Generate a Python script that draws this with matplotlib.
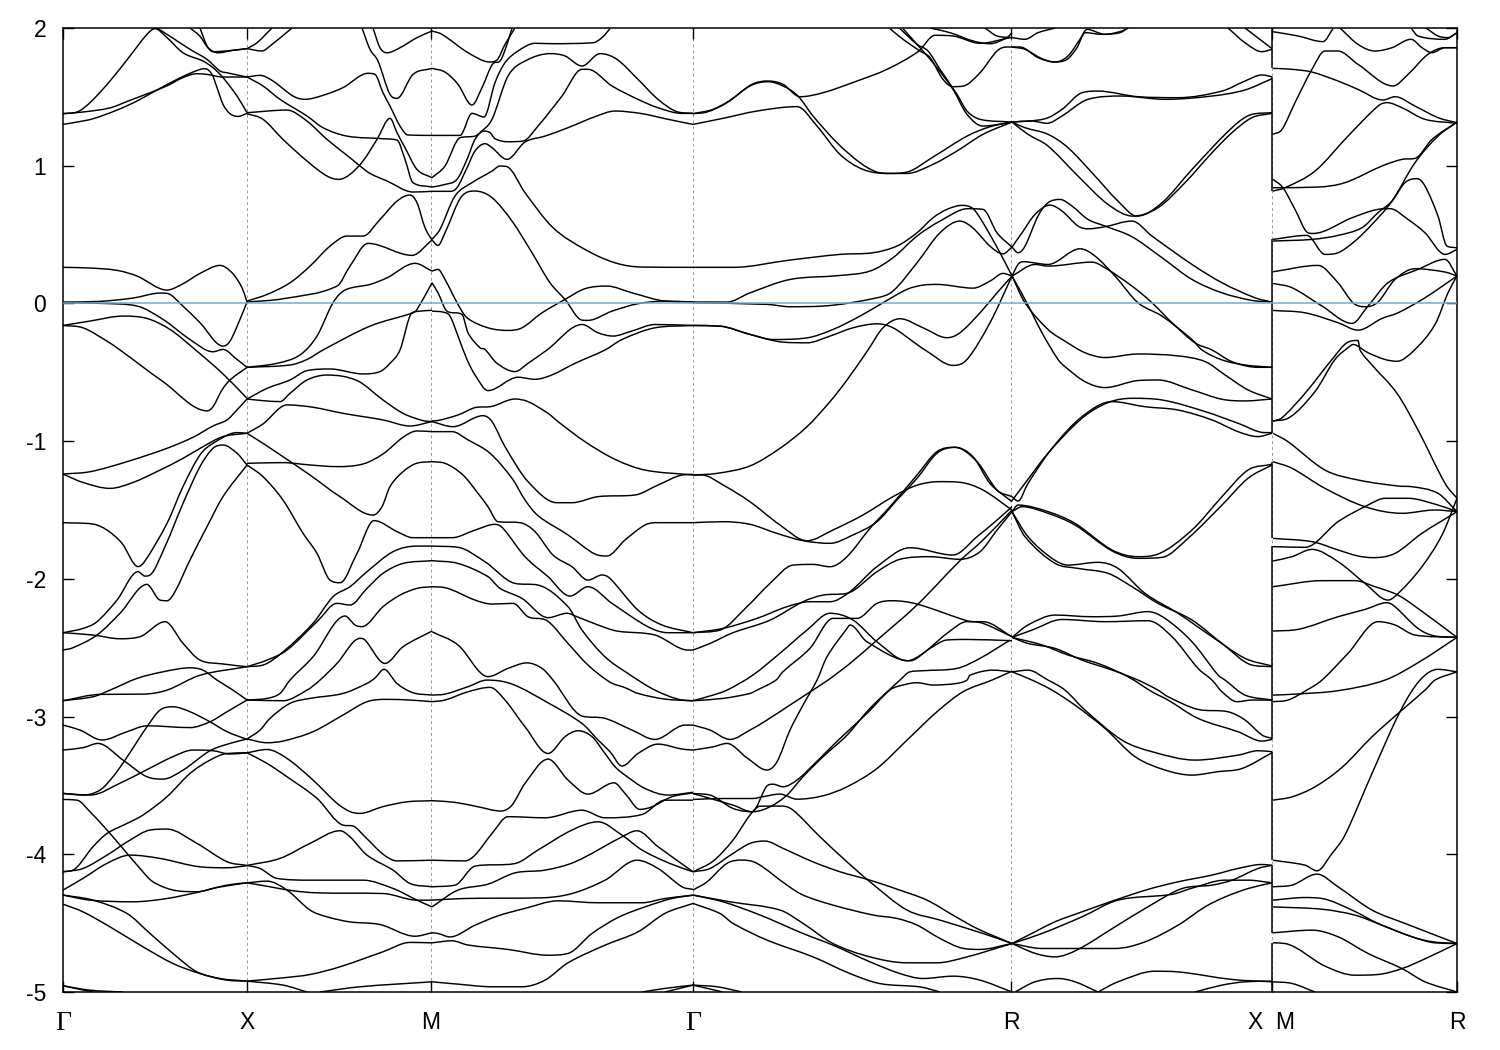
import matplotlib
matplotlib.use("Agg")
import matplotlib.pyplot as plt
from matplotlib.path import Path
from matplotlib.patches import PathPatch

# k path positions of the high symmetry points
tick_pos = [63, 247, 431, 693, 1011, 1272, 1457]
tick_names = ["\u0393", "X", "M", "\u0393", "R", "X  M", "R"]
e_ticks = [-5, -4, -3, -2, -1, 0, 1, 2]

# bands, one list per path segment: (k, E)
gamma_x = [
 ([63,77,90,110,130,147,155,167,183,203,213,223,237,247],[1.378,1.39,1.458,1.615,1.797,1.954,1.995,1.93,1.82,1.76,1.712,1.64,1.506,1.385]),
 ([157,170,190,207,220,227,247],[2.0,1.94,1.845,1.772,1.688,1.675,1.644]),
 ([63,83,110,130,150,167,183,197,207,223,247],[1.378,1.39,1.42,1.475,1.53,1.58,1.64,1.668,1.663,1.644,1.644]),
 ([63,77,93,117,137,157,177,193,205,212,217,223,230,238,247],[1.30,1.317,1.341,1.404,1.47,1.55,1.627,1.68,1.705,1.663,1.567,1.446,1.378,1.358,1.38]),
 ([190,200,208,218,233,247],[2.0,1.94,1.857,1.82,1.838,1.85]),
 ([200,207,213,233,247],[2.0,1.87,1.828,1.838,1.85]),
 ([63,90,117,137,167,183,200,220,232,242,247],[0.262,0.257,0.24,0.199,0.097,0.143,0.218,0.276,0.223,0.114,0.01]),
 ([63,100,133,160,167,183,200,223,230,240,247],[0.01,0.015,0.039,0.075,0.073,-0.02,-0.14,-0.31,-0.274,-0.116,0.01]),
 ([63,103,137,163,190,213,223,237,247],[0.005,0.0,-0.019,-0.116,-0.262,-0.351,-0.334,-0.407,-0.464]),
 ([63,90,123,147,170,193,223,247],[-0.16,-0.128,-0.092,-0.109,-0.189,-0.322,-0.512,-0.689]),
 ([63,83,107,120,163,207,213,222,230,247],[-0.16,-0.177,-0.274,-0.338,-0.568,-0.78,-0.75,-0.628,-0.556,-0.464]),
 ([63,90,127,167,193,213,227,237,247],[-1.239,-1.222,-1.149,-1.052,-0.972,-0.89,-0.846,-0.773,-0.694]),
 ([63,83,110,133,157,183,203,223,247],[-1.239,-1.3,-1.343,-1.3,-1.221,-1.125,-1.04,-0.967,-0.943]),
 ([63,93,107,122,138,145,167,183,200,213,237,247],[-1.592,-1.602,-1.646,-1.742,-1.911,-1.87,-1.597,-1.33,-1.1,-1.016,-0.938,-0.943]),
 ([63,83,97,117,138,145,150,165,183,200,213,223,237,247],[-2.391,-2.36,-2.311,-2.154,-1.948,-1.98,-1.972,-1.766,-1.452,-1.185,-1.052,-1.028,-1.088,-1.173]),
 ([63,73,97,120,147,150,160,167,175,190,207,223,247],[-2.517,-2.5,-2.408,-2.25,-2.04,-2.057,-2.154,-2.159,-2.093,-1.863,-1.621,-1.403,-1.173]),
 ([63,93,120,140,165,183,200,223,247],[-2.391,-2.408,-2.435,-2.42,-2.311,-2.468,-2.59,-2.618,-2.638]),
 ([63,100,143,167,200,247],[-2.885,-2.839,-2.837,-2.808,-2.70,-2.638]),
 ([63,93,110,137,163,190,203,217,233,247],[-2.885,-2.856,-2.808,-2.723,-2.675,-2.646,-2.663,-2.735,-2.808,-2.88]),
 ([63,80,102,127,147,190,210,227,247],[-3.062,-3.098,-3.17,-3.11,-3.067,-3.08,-3.038,-2.965,-2.88]),
 ([63,83,98,123,147,163,183,210,230,247],[-3.243,-3.226,-3.195,-3.316,-3.437,-3.454,-3.389,-3.248,-3.195,-3.163]),
 ([63,83,100,113,125,147,160,173,190,210,227,247],[-3.558,-3.57,-3.534,-3.437,-3.316,-3.074,-2.953,-2.929,-2.965,-3.038,-3.11,-3.166]),
 ([63,90,123,143,173,193,213,230,247],[-3.558,-3.57,-3.473,-3.4,-3.291,-3.243,-3.248,-3.272,-3.263]),
 ([63,77,90,107,120,140,153,177,197,217,247],[-3.602,-3.607,-3.691,-3.824,-3.933,-4.103,-4.2,-4.265,-4.272,-4.241,-4.207]),
 ([63,73,93,107,127,143,167,190,210,227,247],[-4.127,-4.115,-3.945,-3.849,-3.776,-3.715,-3.582,-3.413,-3.316,-3.268,-3.263]),
 ([63,83,107,130,150,167,197,227,247],[-4.127,-4.103,-4.006,-3.897,-3.824,-3.817,-3.921,-4.054,-4.081]),
 ([63,83,107,130,160,200,227,247],[-4.26,-4.175,-4.066,-4.006,-4.03,-4.091,-4.098,-4.083]),
 ([63,90,133,167,200,227,247],[-4.296,-4.333,-4.345,-4.321,-4.272,-4.224,-4.207]),
 ([63,93,127,150,177,197,220,247],[-4.296,-4.333,-4.43,-4.575,-4.745,-4.854,-4.902,-4.921]),
 ([63,83,110,143,173,200,227,247],[-4.362,-4.418,-4.527,-4.672,-4.793,-4.866,-4.914,-4.921]),
 ([63,90,123],[-4.955,-4.987,-5.0]),
 ([63,93],[-4.955,-5.0]),
]

x_m = [
 ([247,263,283,307,327,339,350,363,377,390,397,405,417,432],[1.378,1.337,1.191,1.034,0.925,0.901,0.937,1.034,1.191,1.344,1.24,1.131,0.973,0.913]),
 ([247,287,307,327,350,360,370,387,413,432],[1.385,1.404,1.324,1.191,1.058,0.998,0.944,0.889,0.809,0.814]),
 ([247,263,280,307,323,347,383,397,405,413,432],[1.644,1.579,1.482,1.361,1.276,1.215,1.196,1.186,1.046,0.877,0.845]),
 ([247,260,273,293,305,323,343,368,375,383,390,400,408,432],[1.644,1.656,1.615,1.506,1.482,1.511,1.567,1.671,1.663,1.53,1.433,1.288,1.223,1.22]),
 ([247,257,272],[1.85,1.893,2.0]),
 ([247,262,270,292],[1.85,1.833,1.869,2.0]),
 ([362,370,378,390,397,413,432],[2.0,1.845,1.76,1.518,1.489,1.663,1.707]),
 ([373,380,387,400,417,432],[2.0,1.857,1.82,1.857,1.93,1.978]),
 ([247,267,290,310,330,347,363,380,397,410,417,425,432],[0.017,0.065,0.15,0.271,0.416,0.489,0.489,0.61,0.743,0.787,0.731,0.55,0.46]),
 ([247,283,337,350,368,412,432],[0.01,0.034,0.126,0.271,0.436,0.349,0.46]),
 ([247,277,300,317,333,345,370,387,415,432],[-0.464,-0.435,-0.374,-0.237,0.005,0.097,0.138,0.186,0.291,0.235]),
 ([247,290,307,323,370,413,417,432],[-0.464,-0.447,-0.407,-0.338,-0.165,-0.068,-0.044,0.15]),
 ([247,267,290,307,330,363,380,390,400,412,420,432],[-0.694,-0.617,-0.556,-0.488,-0.476,-0.512,-0.495,-0.435,-0.338,-0.068,-0.056,-0.05]),
 ([247,263,280,290,307,327,357,383,403,423,432],[-0.694,-0.706,-0.713,-0.653,-0.556,-0.52,-0.56,-0.701,-0.798,-0.851,-0.858]),
 ([247,263,287,313,343,383,410,432],[-0.943,-0.875,-0.737,-0.754,-0.798,-0.846,-0.89,-0.858]),
 ([247,263,283,310,340,373,382,390,403,417,432],[-0.943,-1.016,-1.113,-1.246,-1.403,-1.537,-1.476,-1.33,-1.222,-1.16,-1.149]),
 ([247,283,310,337,363,383,403,417,432],[-1.161,-1.156,-1.173,-1.185,-1.166,-1.093,-0.972,-0.926,-0.931]),
 ([247,263,283,303,317,330,340,357,374,397,413,432],[-1.173,-1.258,-1.428,-1.669,-1.815,-2.009,-2.028,-1.815,-1.577,-1.657,-1.701,-1.701]),
 ([247,263,283,313,333,350,367,393,417,432],[-2.638,-2.626,-2.53,-2.323,-2.13,-2.057,-1.948,-1.803,-1.762,-1.762]),
 ([247,267,287,317,337,350,367,383,403,432],[-2.638,-2.59,-2.517,-2.311,-2.178,-2.19,-2.069,-1.96,-1.888,-1.868]),
 ([247,267,280,290,313,345,355,362,383,400,417,432],[-2.88,-2.868,-2.832,-2.735,-2.566,-2.27,-2.335,-2.347,-2.202,-2.118,-2.069,-2.057]),
 ([247,283,307,320,337,360,365,385,403,432],[-2.88,-2.885,-2.808,-2.735,-2.614,-2.432,-2.444,-2.614,-2.493,-2.379]),
 ([247,267,283,313,343,367,387,410,432],[-3.163,-3.19,-3.178,-3.11,-2.989,-2.892,-2.875,-2.88,-2.892]),
 ([247,260,270,290,310,343,367,375,384,397,413,432],[-3.163,-3.098,-3.013,-2.904,-2.868,-2.832,-2.759,-2.72,-2.657,-2.76,-2.827,-2.844]),
 ([247,267,287,313,337,350,360,383,407,432],[-3.263,-3.239,-3.304,-3.461,-3.63,-3.69,-3.703,-3.654,-3.619,-3.611]),
 ([247,267,287,317,343,353,365,383,397,432],[-3.263,-3.34,-3.437,-3.594,-3.788,-3.795,-3.873,-3.999,-4.048,-4.043]),
 ([247,280,310,340,350,367,393,410,432],[-4.081,-4.03,-3.921,-3.829,-3.873,-4.006,-4.115,-4.212,-4.236]),
 ([247,260,277,310,363,393,417,432],[-4.081,-4.103,-4.175,-4.188,-4.188,-4.248,-4.333,-4.382]),
 ([247,267,287,310,327,350,380,415,432],[-4.207,-4.195,-4.26,-4.405,-4.454,-4.491,-4.51,-4.595,-4.57]),
 ([247,270,293,317,383,417,432],[-4.207,-4.236,-4.265,-4.28,-4.285,-4.333,-4.333]),
 ([247,283,310,340,383,410,432],[-4.921,-4.897,-4.873,-4.817,-4.708,-4.64,-4.643]),
 ([247,283,307],[-4.921,-4.95,-5.0]),
 ([320,360,432],[-5.0,-4.962,-4.926]),
]

m_gamma = [
 ([432,442,468,490,497,505,515],[1.978,1.954,1.821,1.753,1.768,1.881,2.0]),
 ([432,445,458,472,482,493,500,507,512],[1.707,1.68,1.591,1.441,1.567,1.741,1.76,1.881,2.0]),
 ([432,460,472,484,495,505,518,535,552,593,602,610],[1.22,1.22,1.38,1.354,1.603,1.748,1.833,1.889,1.886,1.893,1.93,1.995]),
 ([432,445,460,475,480,492,508,525,550,565,582,600,617,638,658,678,693],[0.913,0.998,1.203,1.215,1.24,1.337,1.651,1.76,1.814,1.797,1.724,1.814,1.772,1.627,1.482,1.39,1.38]),
 ([432,445,457,467,475,484,490,495,508,523,538,562,582,588,612,638,658,682,693],[0.845,0.864,0.901,1.046,1.191,1.252,1.24,1.196,1.174,1.179,1.288,1.506,1.7,1.7,1.579,1.482,1.421,1.38,1.38]),
 ([432,450,457,467,475,485,492,507,525,545,568,595,615,642,668,693],[0.814,0.814,0.84,0.985,1.107,1.16,1.131,1.046,1.172,1.215,1.276,1.356,1.397,1.378,1.337,1.3]),
 ([432,440,455,472,492,500,507,525,553,585,615,642,693],[0.465,0.538,0.78,0.877,0.961,0.998,0.993,0.804,0.55,0.392,0.295,0.264,0.262]),
 ([432,438,445,462,475,492,512,532,550,565,582,588,612,638,665,693],[0.46,0.421,0.513,0.78,0.816,0.768,0.598,0.368,0.15,0.029,-0.121,-0.123,-0.056,-0.002,0.017,0.01]),
 ([432,438,445,458,467,488,508,522,542,565,585,607,632,665,693],[0.235,0.247,0.174,-0.007,-0.104,-0.177,-0.196,-0.177,-0.068,0.029,0.107,0.126,0.077,0.017,0.01]),
 ([432,438,447,462,468,480,485,497,515,528,547,582,598,613,632,655,693],[0.15,0.077,-0.056,-0.08,-0.213,-0.322,-0.334,-0.435,-0.495,-0.435,-0.338,-0.153,-0.213,-0.237,-0.2,-0.153,-0.16]),
 ([432,443,450,458,467,475,488,518,535,552,575,605,622,655,693],[-0.056,-0.063,-0.092,-0.237,-0.407,-0.519,-0.633,-0.536,-0.551,-0.519,-0.435,-0.338,-0.262,-0.177,-0.16]),
 ([432,438,458,477,490,515,528,548,558,585,615,645,693],[-0.853,-0.85,-0.81,-0.754,-0.75,-0.694,-0.713,-0.798,-0.858,-1.004,-1.132,-1.21,-1.246]),
 ([432,453,483,492,505,528,557,572,598,635,658,682,693],[-0.858,-0.895,-0.815,-0.858,-1.04,-1.294,-1.447,-1.447,-1.403,-1.391,-1.319,-1.246,-1.241]),
 ([432,452,468,490,512,525,538,568,595,607,625,645,658,693],[-0.931,-0.931,-0.991,-1.088,-1.27,-1.427,-1.541,-1.681,-1.82,-1.834,-1.718,-1.609,-1.592,-1.592]),
 ([432,445,463,478,488,498,520,535,553,572,588,602,610,638,662,693],[-1.149,-1.161,-1.246,-1.379,-1.476,-1.585,-1.592,-1.657,-1.827,-1.912,-2.009,-1.972,-1.997,-2.227,-2.335,-2.391]),
 ([432,452,475,495,503,525,548,570,588,612,648,668,693],[-1.701,-1.701,-1.646,-1.604,-1.633,-1.839,-1.984,-2.125,-2.057,-2.178,-2.348,-2.391,-2.391]),
 ([432,458,485,515,538,568,582,605,628,655,682,693],[-1.762,-1.771,-1.876,-2.033,-2.045,-2.202,-2.372,-2.566,-2.687,-2.808,-2.88,-2.885]),
 ([432,458,488,500,522,548,567,577,598,617,655,688,693],[-1.868,-1.888,-1.984,-2.069,-2.142,-2.282,-2.25,-2.275,-2.335,-2.379,-2.408,-2.517,-2.517]),
 ([432,445,475,492,513,528,547,568,588,610,625,638,665,693],[-2.057,-2.064,-2.154,-2.183,-2.178,-2.275,-2.304,-2.469,-2.626,-2.75,-2.79,-2.832,-2.873,-2.885]),
 ([432,458,488,508,527,542,553,582,605,632,655,685,693],[-2.384,-2.48,-2.71,-2.65,-2.61,-2.65,-2.735,-2.996,-3.013,-3.098,-3.166,-3.062,-3.062]),
 ([432,445,468,487,512,548,582,598,610,622,638,658,682,693],[-2.844,-2.837,-2.783,-2.735,-2.764,-2.9,-3.05,-3.17,-3.255,-3.359,-3.268,-3.2,-3.236,-3.243]),
 ([432,445,468,490,505,525,548,565,578,592,605,615,625,645,668,693],[-2.892,-2.88,-2.82,-2.788,-2.88,-3.074,-3.268,-3.146,-3.103,-3.146,-3.268,-3.364,-3.425,-3.522,-3.57,-3.55]),
 ([432,455,478,501,512,525,548,568,588,614,625,640,652,672,693],[-3.611,-3.623,-3.655,-3.686,-3.643,-3.485,-3.309,-3.461,-3.563,-3.481,-3.558,-3.674,-3.655,-3.582,-3.554]),
 ([432,465,475,492,508,545,582,605,642,665,693],[-4.043,-4.048,-4.006,-3.849,-3.727,-3.735,-3.68,-3.735,-3.711,-3.607,-3.607]),
 ([432,455,475,515,538,572,598,622,642,670,693],[-4.236,-4.224,-4.086,-4.067,-3.969,-3.824,-3.764,-3.861,-3.969,-4.067,-4.127]),
 ([432,458,488,515,545,575,622,637,658,693],[-4.382,-4.26,-4.217,-4.135,-4.115,-4.055,-3.873,-3.829,-3.945,-4.127]),
 ([432,465,542,572,605,637,658,682,693],[-4.333,-4.321,-4.316,-4.285,-4.188,-4.043,-4.103,-4.236,-4.255]),
 ([432,438,450,475,498,525,558,598,642,665,693],[-4.57,-4.575,-4.6,-4.515,-4.447,-4.393,-4.338,-4.352,-4.352,-4.321,-4.297]),
 ([432,452,468,508,548,568,592,618,645,672,693],[-4.643,-4.628,-4.659,-4.691,-4.733,-4.72,-4.575,-4.459,-4.382,-4.321,-4.297]),
 ([432,458,492,522,545,568,605,638,665,693],[-4.926,-4.943,-4.962,-4.962,-4.914,-4.788,-4.66,-4.563,-4.429,-4.357]),
 ([642,665,693],[-5.0,-4.974,-4.95]),
 ([665,693],[-5.0,-4.95]),
]

gamma_r = [
 ([693,707,727,750,768,783,798,813,837,860,877,890,907,933,967,990,1012],[1.378,1.39,1.458,1.579,1.61,1.579,1.506,1.361,1.167,1.022,0.954,0.944,0.954,1.063,1.215,1.283,1.317]),
 ([693,713,730,752,768,783,800,823,857,887,918,935,953,980,1010],[1.378,1.409,1.475,1.591,1.615,1.591,1.501,1.53,1.615,1.7,1.828,1.947,1.942,1.889,1.93]),
 ([693,723,757,797,817,840,863,887,907,933,957,983,1012],[1.3,1.344,1.397,1.429,1.288,1.082,0.973,0.944,0.944,1.01,1.107,1.228,1.317]),
 ([890,903,920,930,943,953,963,980,997,1007,1012],[1.995,1.918,1.833,1.785,1.627,1.574,1.578,1.675,1.833,1.862,1.862]),
 ([900,917,928,940,957,967,980,1012],[1.995,1.881,1.833,1.7,1.518,1.397,1.337,1.317]),
 ([903,920,937,953,967,983,1012],[1.995,1.857,1.712,1.554,1.373,1.288,1.317]),
 ([930,950,973,990,1007,1012],[2.0,1.966,1.906,1.886,1.93,1.966]),
 ([985,997,1012],[2.0,1.942,1.93]),
 ([693,733,790,840,873,897,917,933,947,962,973,983,1000,1012],[0.262,0.262,0.315,0.356,0.368,0.417,0.513,0.622,0.683,0.712,0.688,0.586,0.368,0.199]),
 ([693,727,750,790,840,870,893,917,940,968,983,997,1012],[0.01,0.01,0.077,0.174,0.203,0.235,0.332,0.489,0.598,0.688,0.683,0.513,0.409]),
 ([693,767,790,823,877,893,917,940,960,973,990,1003,1012],[0.005,-0.007,-0.024,-0.019,0.041,0.09,0.295,0.513,0.598,0.547,0.416,0.36,0.409]),
 ([693,720,750,773,807,833,860,883,907,923,937,973,990,1003,1012],[-0.16,-0.165,-0.225,-0.262,-0.25,-0.189,-0.092,0.005,0.102,0.133,0.138,0.111,0.162,0.218,0.199]),
 ([693,720,750,783,807,830,853,877,893,917,925,953,967,990,1012],[-0.16,-0.165,-0.225,-0.281,-0.286,-0.237,-0.177,-0.148,-0.177,-0.298,-0.338,-0.45,-0.407,-0.14,0.199]),
 ([693,717,750,780,807,830,847,868,883,900,923,947,960,980,997,1012],[-1.246,-1.234,-1.18,-1.052,-0.895,-0.713,-0.556,-0.338,-0.177,-0.111,-0.177,-0.249,-0.213,-0.068,0.077,0.199]),
 ([693,702,723,750,780,807,833,863,893,917,940,960,983,1012],[-1.246,-1.246,-1.318,-1.44,-1.609,-1.723,-1.645,-1.536,-1.403,-1.32,-1.294,-1.299,-1.355,-1.5]),
 ([693,723,750,777,803,830,853,877,897,917,937,955,973,990,1012],[-1.592,-1.585,-1.604,-1.67,-1.723,-1.742,-1.681,-1.585,-1.427,-1.27,-1.088,-1.045,-1.113,-1.307,-1.44]),
 ([693,720,747,770,793,813,830,847,870,890,917,937,955,977,997,1012],[-2.391,-2.372,-2.202,-2.033,-1.9,-1.895,-1.912,-1.839,-1.633,-1.476,-1.246,-1.076,-1.045,-1.149,-1.355,-1.403]),
 ([693,723,757,787,810,830,850,877,910,953,977,997,1012],[-2.391,-2.36,-2.287,-2.202,-2.166,-2.166,-2.093,-1.911,-1.774,-1.827,-1.694,-1.573,-1.476]),
 ([693,710,733,770,803,823,847,877,900,930,960,980,997,1012],[-2.517,-2.469,-2.391,-2.3,-2.166,-2.118,-2.105,-1.948,-1.858,-1.839,-1.858,-1.803,-1.646,-1.512]),
 ([693,713,727,753,780,807,830,853,877,907,923,947,967,983,1012],[-2.885,-2.844,-2.808,-2.698,-2.54,-2.372,-2.25,-2.299,-2.457,-2.595,-2.541,-2.396,-2.311,-2.311,-2.42]),
 ([693,723,750,757,776,783,810,833,857,877,893,917,967,983,1012],[-2.885,-2.868,-2.832,-2.808,-2.735,-2.674,-2.504,-2.287,-2.287,-2.178,-2.159,-2.183,-2.304,-2.323,-2.42]),
 ([693,713,727,747,767,777,790,803,817,827,847,850,867,910,930,947,967,1012],[-3.243,-3.22,-3.195,-3.3,-3.388,-3.328,-3.098,-2.917,-2.735,-2.565,-2.36,-2.335,-2.457,-2.595,-2.505,-2.444,-2.44,-2.449]),
 ([693,710,730,750,767,790,813,828,850,877,917,960,983,1012],[-3.062,-3.098,-3.166,-3.098,-3.025,-2.916,-2.807,-2.735,-2.614,-2.445,-2.19,-1.868,-1.718,-1.5]),
 ([693,710,733,753,770,787,803,823,847,870,900,910,923,957,980,1010],[-3.559,-3.57,-3.667,-3.691,-3.655,-3.57,-3.437,-3.292,-3.135,-2.94,-2.735,-2.675,-2.667,-2.65,-2.577,-2.445]),
 ([693,723,753,762,780,797,823,847,877,907,937,963,992,1012],[-3.602,-3.595,-3.595,-3.583,-3.563,-3.6,-3.575,-3.51,-3.377,-3.171,-2.965,-2.82,-2.735,-2.67]),
 ([693,733,752,768,773,783,797,813,840,867,890,903,917,933,957,967,970,993,1012],[-3.559,-3.643,-3.691,-3.498,-3.491,-3.51,-3.461,-3.353,-3.159,-2.977,-2.807,-2.771,-2.754,-2.771,-2.759,-2.735,-2.699,-2.663,-2.675]),
 ([693,710,733,750,765,783,813,840,870,900,927,953,977,1012],[-4.127,-4.103,-3.994,-3.921,-3.904,-3.957,-4.055,-4.127,-4.188,-4.261,-4.333,-4.442,-4.539,-4.648]),
 ([693,713,733,750,760,782,793,820,847,870,907,940,983,1012],[-4.127,-4.05,-3.897,-3.715,-3.651,-3.65,-3.679,-3.873,-4.055,-4.2,-4.405,-4.478,-4.575,-4.648]),
 ([693,707,727,742,757,787,803,833,873,897,917,940,963,980,1012],[-4.26,-4.2,-4.066,-4.042,-4.066,-4.224,-4.296,-4.369,-4.441,-4.466,-4.514,-4.611,-4.683,-4.691,-4.648]),
 ([693,730,780,803,833,870,907,937,967,1012],[-4.296,-4.345,-4.405,-4.502,-4.648,-4.745,-4.788,-4.788,-4.745,-4.648]),
 ([693,723,760,803,833,870,900,923,953,980,1012],[-4.296,-4.345,-4.441,-4.575,-4.66,-4.781,-4.866,-4.902,-4.885,-4.914,-5.0]),
 ([693,720,733,767,813,850,880,920,940],[-4.357,-4.43,-4.502,-4.623,-4.745,-4.866,-4.939,-4.963,-5.0]),
 ([693,717,742],[-4.95,-4.962,-5.0]),
 ([693,723],[-4.95,-5.0]),
]

r_x = [
 ([1012,1025,1038,1055],[1.93,1.918,1.966,2.0]),
 ([1012,1020,1038,1055,1068,1080,1087,1105,1122,1128],[1.862,1.862,1.785,1.753,1.797,1.918,1.99,1.954,1.978,2.0]),
 ([1012,1025,1042,1055,1067,1077,1085,1102,1120,1128],[1.862,1.845,1.777,1.753,1.772,1.857,1.966,1.954,1.966,2.0]),
 ([1228,1245,1262,1272],[2.0,1.893,1.828,1.845]),
 ([1245,1272],[2.0,1.85]),
 ([1012,1045,1062,1082,1098,1138,1178,1222,1245,1262,1272],[1.317,1.341,1.409,1.53,1.542,1.501,1.494,1.542,1.615,1.659,1.646]),
 ([1012,1032,1047,1062,1088,1122,1165,1212,1245,1272],[1.317,1.324,1.308,1.361,1.482,1.506,1.482,1.506,1.55,1.632]),
 ([1012,1025,1048,1068,1092,1118,1137,1162,1192,1232,1252,1272],[1.317,1.276,1.228,1.131,0.949,0.743,0.634,0.731,0.973,1.276,1.373,1.385]),
 ([1012,1028,1048,1078,1108,1133,1158,1185,1212,1232,1252,1272],[1.317,1.228,1.143,0.925,0.719,0.634,0.695,0.877,1.094,1.24,1.349,1.38]),
 ([1012,1018,1025,1038,1048,1060,1072,1088,1105,1132,1162,1192,1222,1252,1272],[0.409,0.368,0.416,0.634,0.731,0.755,0.707,0.61,0.562,0.484,0.332,0.174,0.077,0.022,0.01]),
 ([1012,1022,1035,1050,1062,1078,1088,1105,1132,1152,1192,1222,1255,1272],[0.409,0.513,0.646,0.714,0.671,0.562,0.542,0.557,0.598,0.489,0.283,0.15,0.041,0.01]),
 ([1012,1018,1023,1048,1080,1095,1115,1138,1162,1192,1202,1222,1245,1272],[0.199,0.283,0.303,0.283,0.397,0.344,0.199,0.005,-0.092,-0.262,-0.338,-0.41,-0.447,-0.464]),
 ([1012,1035,1048,1092,1105,1132,1152,1172,1195,1212,1232,1258,1272],[0.199,0.283,0.271,0.3,0.259,0.126,0.005,-0.14,-0.286,-0.338,-0.423,-0.464,-0.464]),
 ([1012,1025,1048,1065,1085,1105,1138,1178,1205,1225,1248,1272],[0.199,0.005,-0.189,-0.274,-0.358,-0.393,-0.367,-0.381,-0.422,-0.519,-0.628,-0.694]),
 ([1012,1025,1042,1058,1065,1085,1105,1138,1158,1192,1222,1245,1272],[0.199,0.029,-0.213,-0.407,-0.459,-0.568,-0.611,-0.56,-0.556,-0.628,-0.696,-0.708,-0.694]),
 ([1012,1025,1048,1082,1108,1132,1162,1205,1238,1265,1272],[-1.432,-1.306,-1.088,-0.834,-0.72,-0.689,-0.701,-0.785,-0.87,-0.938,-0.938]),
 ([1012,1018,1028,1052,1082,1112,1145,1178,1212,1238,1258,1272],[-1.403,-1.435,-1.307,-1.052,-0.822,-0.713,-0.75,-0.774,-0.846,-0.931,-0.967,-0.943]),
 ([1012,1018,1048,1075,1112,1138,1158,1192,1222,1248,1272],[-1.512,-1.464,-1.512,-1.597,-1.79,-1.839,-1.82,-1.645,-1.403,-1.21,-1.168]),
 ([1012,1022,1048,1075,1112,1138,1162,1188,1222,1248,1272],[-1.512,-1.476,-1.524,-1.609,-1.797,-1.851,-1.844,-1.706,-1.464,-1.27,-1.173]),
 ([1012,1028,1052,1068,1098,1118,1145,1178,1212,1245,1272],[-1.512,-1.694,-1.851,-1.9,-1.88,-1.924,-2.105,-2.25,-2.42,-2.577,-2.633]),
 ([1012,1025,1055,1078,1108,1132,1158,1192,1222,1252,1272],[-1.512,-1.694,-1.887,-1.924,-1.96,-2.057,-2.178,-2.299,-2.469,-2.626,-2.638]),
 ([1012,1028,1055,1092,1118,1148,1165,1192,1218,1225,1245,1272],[-2.425,-2.335,-2.263,-2.275,-2.27,-2.238,-2.287,-2.457,-2.698,-2.735,-2.844,-2.88]),
 ([1012,1032,1062,1105,1148,1172,1198,1212,1222,1237,1252,1272],[-2.425,-2.372,-2.295,-2.311,-2.304,-2.42,-2.65,-2.735,-2.82,-2.892,-2.88,-2.88]),
 ([1012,1042,1068,1098,1128,1152,1168,1198,1238,1262,1272],[-2.425,-2.48,-2.553,-2.614,-2.711,-2.82,-2.88,-3.013,-3.11,-3.178,-3.166]),
 ([1012,1028,1055,1082,1112,1138,1158,1168,1198,1228,1245,1262,1272],[-2.425,-2.469,-2.505,-2.59,-2.662,-2.735,-2.808,-2.856,-2.948,-2.965,-3.025,-3.134,-3.158]),
 ([1012,1032,1052,1075,1105,1135,1165,1192,1218,1242,1272],[-2.675,-2.735,-2.808,-2.917,-3.086,-3.291,-3.388,-3.425,-3.4,-3.377,-3.263]),
 ([1012,1028,1048,1065,1085,1122,1152,1195,1238,1258,1272],[-2.675,-2.663,-2.735,-2.808,-2.953,-3.171,-3.255,-3.316,-3.28,-3.248,-3.255]),
 ([1012,1035,1055,1082,1115,1148,1178,1212,1238,1262,1272],[-4.648,-4.563,-4.49,-4.418,-4.333,-4.255,-4.2,-4.151,-4.103,-4.074,-4.08]),
 ([1012,1042,1082,1118,1172,1192,1225,1248,1272],[-4.648,-4.575,-4.454,-4.333,-4.291,-4.246,-4.188,-4.188,-4.207]),
 ([1012,1042,1078,1115,1145,1178,1205,1225,1248,1272],[-4.648,-4.684,-4.684,-4.684,-4.636,-4.515,-4.382,-4.31,-4.249,-4.207]),
 ([1012,1035,1055,1078,1115,1148,1182,1212,1232,1258,1272],[-4.648,-4.719,-4.745,-4.691,-4.527,-4.381,-4.249,-4.224,-4.188,-4.103,-4.08]),
 ([1015,1035,1058,1075,1098],[-5.0,-4.926,-4.902,-4.926,-5.0]),
 ([1098,1118,1155,1178,1232,1272],[-5.0,-4.926,-4.849,-4.854,-4.909,-4.926]),
 ([1195,1222,1245,1272],[-5.0,-4.95,-4.926,-4.921]),
]

m_r = [
 ([1273,1298,1323,1333],[1.973,1.942,1.901,1.995]),
 ([1340,1358,1375,1392,1411,1422,1432,1445,1457],[2.0,1.881,1.833,1.857,1.918,1.857,1.821,1.857,1.857]),
 ([1411,1418,1445,1457],[2.0,1.942,1.918,1.966]),
 ([1426,1438,1448,1457],[2.0,1.942,1.93,1.966]),
 ([1273,1282,1295,1312,1325,1338,1358,1393,1408,1428,1445,1457],[1.228,1.264,1.458,1.7,1.833,1.833,1.736,1.579,1.663,1.809,1.857,1.857]),
 ([1273,1292,1312,1338,1358,1383,1395,1415,1438,1457],[1.707,1.7,1.68,1.615,1.554,1.477,1.501,1.433,1.349,1.312]),
 ([1273,1285,1315,1348,1378,1387,1402,1425,1457],[0.816,0.84,0.961,1.215,1.433,1.458,1.421,1.337,1.308]),
 ([1273,1318,1345,1382,1402,1415,1432,1457],[0.84,0.845,0.877,0.998,1.046,1.053,1.191,1.317]),
 ([1273,1283,1295,1308,1313,1352,1378,1390,1408,1425,1445,1457],[0.901,0.84,0.683,0.513,0.508,0.622,0.683,0.688,0.61,0.513,0.356,0.392]),
 ([1273,1307,1325,1338,1355,1372,1392,1415,1438,1457],[0.465,0.494,0.356,0.368,0.453,0.574,0.743,1.022,1.215,1.317]),
 ([1273,1312,1338,1362,1378,1392,1405,1417,1425,1438,1447,1457],[0.453,0.465,0.494,0.55,0.659,0.743,0.877,0.906,0.852,0.634,0.416,0.404]),
 ([1273,1318,1338,1353,1365,1378,1395,1415,1445,1457],[0.23,0.276,0.15,0.005,-0.024,0.01,0.174,0.252,0.228,0.199]),
 ([1273,1292,1322,1352,1368,1388,1418,1445,1457],[0.145,0.114,-0.019,-0.145,-0.019,0.15,0.247,0.32,0.199]),
 ([1273,1305,1338,1358,1382,1398,1425,1457],[-0.051,-0.068,-0.14,-0.194,-0.109,-0.068,0.041,0.199]),
 ([1273,1282,1305,1332,1348,1358,1360,1372,1397,1418,1445,1457],[-0.854,-0.83,-0.653,-0.407,-0.281,-0.269,-0.338,-0.447,-0.653,-0.919,-1.306,-1.415]),
 ([1273,1288,1315,1335,1350,1353,1368,1385,1397,1415,1435,1448,1457],[-0.854,-0.834,-0.64,-0.407,-0.31,-0.298,-0.358,-0.407,-0.42,-0.334,-0.153,0.077,0.199]),
 ([1273,1288,1325,1358,1398,1412,1438,1457],[-0.943,-1.004,-1.21,-1.282,-1.326,-1.331,-1.379,-1.512]),
 ([1273,1292,1325,1365,1402,1435,1457],[-1.149,-1.197,-1.343,-1.476,-1.524,-1.5,-1.512]),
 ([1273,1312,1338,1358,1373,1395,1422,1457],[-1.706,-1.73,-1.79,-1.834,-1.846,-1.815,-1.669,-1.512]),
 ([1273,1305,1338,1368,1385,1408,1438,1457],[-1.766,-1.771,-1.585,-1.464,-1.415,-1.415,-1.464,-1.512]),
 ([1273,1292,1312,1338,1365,1388,1400,1422,1442,1457],[-1.87,-1.839,-1.786,-1.875,-2.033,-2.154,-2.093,-1.911,-1.682,-1.415]),
 ([1273,1322,1355,1375,1398,1418,1457],[-2.057,-2.013,-2.013,-2.057,-2.118,-2.215,-2.425]),
 ([1273,1298,1338,1365,1387,1395,1418,1435,1457],[-2.379,-2.367,-2.275,-2.222,-2.173,-2.202,-2.36,-2.415,-2.425]),
 ([1273,1288,1307,1322,1348,1378,1395,1415,1457],[-2.892,-2.88,-2.807,-2.735,-2.541,-2.311,-2.335,-2.408,-2.425]),
 ([1273,1295,1338,1385,1420,1457],[-2.844,-2.837,-2.812,-2.735,-2.6,-2.425]),
 ([1273,1292,1315,1342,1372,1400,1425,1435,1457],[-3.607,-3.583,-3.51,-3.369,-3.147,-2.965,-2.808,-2.735,-2.675]),
 ([1273,1305,1317,1332,1345,1372,1400,1420,1438,1457],[-4.043,-4.079,-4.12,-3.994,-3.86,-3.413,-2.965,-2.735,-2.657,-2.675]),
 ([1273,1292,1317,1338,1372,1405,1457],[-4.236,-4.224,-4.144,-4.236,-4.405,-4.502,-4.648]),
 ([1273,1305,1322,1352,1378,1412,1432,1457],[-4.333,-4.314,-4.321,-4.405,-4.502,-4.599,-4.635,-4.648]),
 ([1273,1322,1355,1382,1412,1435,1457],[-4.382,-4.399,-4.442,-4.515,-4.599,-4.643,-4.648]),
 ([1273,1312,1338,1368,1402,1425,1457],[-4.57,-4.551,-4.599,-4.72,-4.83,-4.926,-5.0]),
 ([1273,1285,1325,1355,1378,1402,1425,1457],[-4.643,-4.648,-4.812,-4.878,-4.873,-4.83,-4.759,-4.648]),
 ([1273,1292,1315],[-4.926,-4.938,-5.0]),
]

# the jump from X to M shows as a vertical line with a few holes in it
jump_k = 1272
jump_top = [2.0, 1.646, 0.465, -1.149, -1.762, -3.255, -4.08, -4.643]
jump_bot = [1.707, 0.816, -0.943, -1.706, -3.166, -4.043, -4.57, -5.0]


def band_path(k, e):
    # bezier through the read points, flat at turning points so nothing overshoots
    n = len(k)
    s = [(e[i+1]-e[i])/(k[i+1]-k[i]) for i in range(n-1)]
    m = [s[0]] + [0.0]*(n-2) + [s[-1]]
    for i in range(1, n-1):
        if s[i-1]*s[i] > 0:
            c = (e[i+1]-e[i-1])/(k[i+1]-k[i-1])
            lim = 3*min(abs(s[i-1]), abs(s[i]))
            m[i] = c if abs(c) < lim else lim*(1 if c > 0 else -1)
    verts = [(k[0], e[0])]
    codes = [Path.MOVETO]
    for i in range(n-1):
        h = (k[i+1]-k[i])/3
        verts += [(k[i]+h, e[i]+m[i]*h), (k[i+1]-h, e[i+1]-m[i+1]*h), (k[i+1], e[i+1])]
        codes += [Path.CURVE4]*3
    return Path(verts, codes)


fig = plt.figure(figsize=(15, 10.5), dpi=100)
ax = fig.add_axes([63/1500, 1-992/1050, 1394/1500, 964/1050])
plt.rcParams['font.family'] = ['Liberation Sans', 'DejaVu Sans']

for k in tick_pos[1:-2] + [jump_k]:
    ax.axvline(k, color='#999999', lw=0.7, ls=(0, (3, 3)), zorder=1)

segments = [gamma_x, x_m, m_gamma, gamma_r, r_x, m_r]
for seg in segments:
    for k, e in seg:
        ax.add_patch(PathPatch(band_path(k, e), fill=False, edgecolor='black', lw=1.05, zorder=2))

ax.vlines([jump_k]*len(jump_top), jump_bot, jump_top, color='black', lw=1.1, zorder=2)
ax.axhline(0, color='#56b4e9', lw=1.1, zorder=3)

ax.set_xlim(tick_pos[0], tick_pos[-1])
ax.set_ylim(-5, 2)
ax.set_xticks(tick_pos)
ax.set_xticklabels(tick_names, fontsize=16.5, family='Liberation Sans')
for lab in [ax.get_xticklabels()[0], ax.get_xticklabels()[3]]:
    lab.set_family('Liberation Serif')
    lab.set_fontsize(20)
ax.set_yticks(e_ticks)
ax.set_yticklabels([str(v) for v in e_ticks], fontsize=16.5, family='Liberation Sans')
ax.tick_params(axis='both', direction='in', length=8, width=1.0, top=True, right=True)
ax.tick_params(axis='y', pad=12)
ax.tick_params(axis='x', pad=13.5)
for sp in ax.spines.values():
    sp.set_linewidth(1.1)

fig.savefig('out.png', dpi=100)
